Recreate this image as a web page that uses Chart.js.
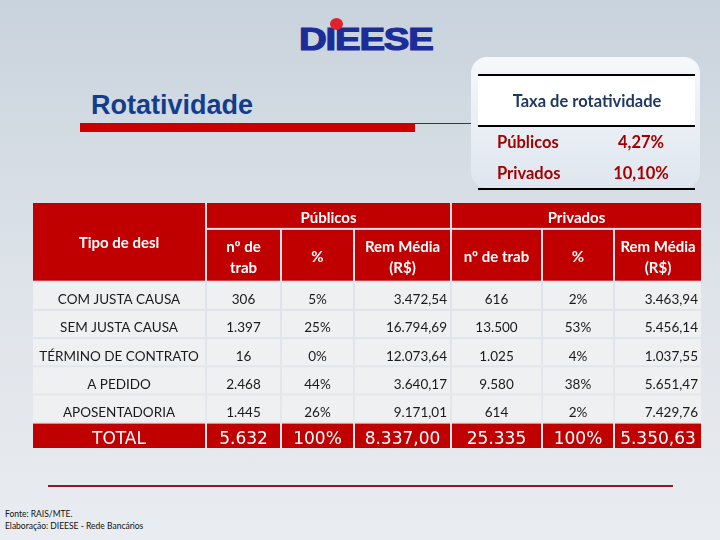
<!DOCTYPE html>
<html lang="pt-BR">
<head>
<meta charset="utf-8">
<script src="https://cdn.jsdelivr.net/npm/chart.js@4.4.1/dist/chart.umd.min.js"></script>
<style>
  html, body { margin: 0; padding: 0; }
  body {
    width: 720px; height: 540px; overflow: hidden; position: relative;
    background: linear-gradient(#c9d3dd, #dfe4ea 55%, #e9ecf0);
    font-family: Lato, "Open Sans", sans-serif;
  }
  .abs { position: absolute; }
  #logo {
    left: 299px; top: 21px; font: bold 32px "Liberation Sans", Arial, sans-serif;
    color: #1c2d9a; transform: scaleX(1.2); transform-origin: left top; letter-spacing: -1px;
    -webkit-text-stroke: 1.2px #1c2d9a;
  }
  #logo-dot { left: 330px; top: 18px; width: 13px; height: 12px; border-radius: 50%; background: #e0232b; }
  #titulo { left: 91px; top: 92px; font: bold 27px/27px "Liberation Sans", Arial, sans-serif; color: #123d8c; }
  #barra { left: 80px; top: 123px; width: 335px; height: 9px; background: #cc0000; }
  #fio { left: 415px; top: 123px; width: 62px; height: 1px; background: #c00000; }
  #rodape-linha { left: 48px; top: 485px; width: 625px; height: 2px; background: #8e1b1b; }
  #fonte { left: 5px; top: 508px; font: 8.5px/12px Lato, sans-serif; color: #111; }
  #wrap-tabela { left: 32px; top: 202px; width: 670px; height: 247px; }
  #wrap-taxa { left: 470px; top: 55px; width: 232px; height: 137px; }
</style>
</head>
<body>
<div id="logo" class="abs">DIEESE</div>
<div id="logo-dot" class="abs"></div>
<div id="titulo" class="abs">Rotatividade</div>
<div id="barra" class="abs"></div>
<div id="fio" class="abs"></div>
<div id="rodape-linha" class="abs"></div>
<div id="fonte" class="abs">Fonte: RAIS/MTE.<br>Elaboração: DIEESE - Rede Bancários</div>
<div id="wrap-taxa" class="abs"><canvas id="taxa" width="232" height="137"></canvas></div>
<div id="wrap-tabela" class="abs"><canvas id="tabela" width="670" height="247"></canvas></div>

<script>
// ── dados ──────────────────────────────────────────────────────────
const TAXA_LABELS = ['Públicos', 'Privados'];
const TAXA_VALUES = [4.27, 10.10];

const TIPOS      = ['COM JUSTA CAUSA', 'SEM JUSTA CAUSA', 'TÉRMINO DE CONTRATO', 'A PEDIDO', 'APOSENTADORIA'];
const PUB_TRAB   = [306, 1397, 16, 2468, 1445];
const PUB_PCT    = [5, 25, 0, 44, 26];
const PUB_REM    = [3472.54, 16794.69, 12073.64, 3640.17, 9171.01];
const PRIV_TRAB  = [616, 13500, 1025, 9580, 614];
const PRIV_PCT   = [2, 53, 4, 38, 2];
const PRIV_REM   = [3463.94, 5456.14, 1037.55, 5651.47, 7429.76];
const TOTAL_PUB  = [5632, 100, 8337.00];
const TOTAL_PRIV = [25335, 100, 5350.63];

const GRUPOS      = ['Públicos', 'Privados'];
const SUBTITULOS  = [['nº de', 'trab'], ['%'], ['Rem Média', '(R$)'], ['nº de trab'], ['%'], ['Rem Média', '(R$)']];

// ── layout da tabela ───────────────────────────────────────────────
const COL_W = [174, 75, 73, 97, 91, 72, 88];
const ROW_H = [27, 53, 28.3, 28.3, 28.3, 28.3, 28.3, 26.5];
const ALIGN = ['center', 'center', 'right', 'center', 'center', 'right'];
const RED = '#c00000';
const CELL = '#eff0f2';

const edges = a => a.reduce((acc, w) => (acc.push(acc[acc.length - 1] + w), acc), [0]);
const X = edges(COL_W);
const Y = edges(ROW_H);

// ── formatação pt-BR ───────────────────────────────────────────────
const fmtInt = v => String(v).replace(/\B(?=(\d{3})+(?!\d))/g, '.');
const fmtDec = v => { const [i, d] = v.toFixed(2).split('.'); return fmtInt(i) + ',' + d; };
const fmtPct = v => v + '%';

function rowValues(i) {
  return [fmtInt(PUB_TRAB[i]), fmtPct(PUB_PCT[i]), fmtDec(PUB_REM[i]),
          fmtInt(PRIV_TRAB[i]), fmtPct(PRIV_PCT[i]), fmtDec(PRIV_REM[i])];
}

// desenha uma célula (col c0..c1, linha r0..r1) usando as escalas do gráfico
function cell(chart, c0, c1, r0, r1, fill, lines, font, color, align, dy) {
  const { ctx, scales: { x, y } } = chart;
  const left = x.getPixelForValue(X[c0]), right = x.getPixelForValue(X[c1]);
  const top = y.getPixelForValue(Y[r0]), bottom = y.getPixelForValue(Y[r1]);
  ctx.fillStyle = fill;
  ctx.fillRect(left + 1, top + 1, right - left - 2, bottom - top - 2);
  if (!lines) return;
  ctx.font = font;
  ctx.fillStyle = color;
  ctx.textBaseline = 'middle';
  ctx.textAlign = align || 'center';
  const tx = align === 'right' ? right - 4 : (left + right) / 2;
  const lh = 21;
  const cy = (top + bottom) / 2 + (dy || 0);
  lines.forEach((t, k) => ctx.fillText(t, tx, cy + (k - (lines.length - 1) / 2) * lh));
}

const tabelaPlugin = {
  id: 'tabela',
  afterDraw(chart) {
    const hFont = 'bold 15px Lato, sans-serif';
    const dFont = '13.5px Lato, sans-serif';
    const tFont = '17px "DejaVu Sans", Verdana, sans-serif';
    // cabeçalho
    cell(chart, 0, 1, 0, 2, RED, ['Tipo de desl'], hFont, '#fff', 'center', 1);
    GRUPOS.forEach((g, k) => cell(chart, 1 + 3 * k, 4 + 3 * k, 0, 1, RED, [g], hFont, '#fff', 'center', 3));
    SUBTITULOS.forEach((s, k) => cell(chart, k + 1, k + 2, 1, 2, RED, s, hFont, '#fff', 'center', 2));
    // linhas de dados
    TIPOS.forEach((t, i) => {
      const r = i + 2;
      cell(chart, 0, 1, r, r + 1, CELL, [t], dFont, '#1a1a1a', 'center', 4);
      rowValues(i).forEach((v, k) => cell(chart, k + 1, k + 2, r, r + 1, CELL, [v], dFont, '#1a1a1a', ALIGN[k], 4));
    });
    // total
    const rt = TIPOS.length + 2;
    const tot = [fmtInt(TOTAL_PUB[0]), fmtPct(TOTAL_PUB[1]), fmtDec(TOTAL_PUB[2]),
                 fmtInt(TOTAL_PRIV[0]), fmtPct(TOTAL_PRIV[1]), fmtDec(TOTAL_PRIV[2])];
    cell(chart, 0, 1, rt, rt + 1, RED, ['TOTAL'], tFont, '#fff', 'center', 4);
    tot.forEach((v, k) => cell(chart, k + 1, k + 2, rt, rt + 1, RED, [v], tFont, '#fff', 'center', 4));
  }
};

new Chart(document.getElementById('tabela'), {
  type: 'scatter',
  data: { datasets: [] },
  options: {
    responsive: false,
    animation: false,
    layout: { padding: 0 },
    plugins: { legend: { display: false }, tooltip: { enabled: false } },
    scales: {
      x: { type: 'linear', min: 0, max: X[X.length - 1], display: false },
      y: { type: 'linear', min: 0, max: Y[Y.length - 1], reverse: true, display: false },
    },
  },
  plugins: [tabelaPlugin],
});

// ── quadro "Taxa de rotatividade" ──────────────────────────────────
const TAXA_Y = [0, 20, 71, 134, 137];   // bordas: topo, linha1, linha2, linha3, fundo
const taxaPlugin = {
  id: 'taxa',
  afterDraw(chart) {
    const { ctx, scales: { x, y } } = chart;
    const px = v => x.getPixelForValue(v), py = v => y.getPixelForValue(v);
    // caixa arredondada
    const g = ctx.createLinearGradient(0, py(0), 0, py(132));
    g.addColorStop(0, '#f6f8fb');
    g.addColorStop(1, '#dfe6ef');
    ctx.fillStyle = g;
    ctx.beginPath();
    ctx.roundRect(px(1), py(2), px(230) - px(1), py(133) - py(2), 16);
    ctx.fill();
    ctx.fillStyle = '#ffffff';
    ctx.fillRect(px(8), py(TAXA_Y[1]), px(225) - px(8), py(TAXA_Y[2]) - py(TAXA_Y[1]));
    // linhas
    ctx.strokeStyle = '#000';
    ctx.lineWidth = 2;
    [1, 2, 3].forEach(k => {
      ctx.beginPath();
      ctx.moveTo(px(8), py(TAXA_Y[k]));
      ctx.lineTo(px(225), py(TAXA_Y[k]));
      ctx.stroke();
    });
    ctx.textBaseline = 'middle';
    ctx.font = 'bold 16.5px Lato, sans-serif';
    ctx.fillStyle = '#1f3864';
    ctx.textAlign = 'center';
    ctx.fillText('Taxa de rotatividade', px(117), py(47));
    ctx.fillStyle = '#a50000';
    TAXA_LABELS.forEach((l, i) => {
      const cy = py(88 + i * 31);
      ctx.textAlign = 'left';
      ctx.fillText(l, px(27), cy);
      ctx.textAlign = 'center';
      ctx.fillText(TAXA_VALUES[i].toFixed(2).replace('.', ',') + '%', px(171), cy);
    });
  }
};

new Chart(document.getElementById('taxa'), {
  type: 'scatter',
  data: { datasets: [] },
  options: {
    responsive: false,
    animation: false,
    layout: { padding: 0 },
    plugins: { legend: { display: false }, tooltip: { enabled: false } },
    scales: {
      x: { type: 'linear', min: 0, max: 232, display: false },
      y: { type: 'linear', min: 0, max: TAXA_Y[TAXA_Y.length - 1], reverse: true, display: false },
    },
  },
  plugins: [taxaPlugin],
});
</script>
</body>
</html>
